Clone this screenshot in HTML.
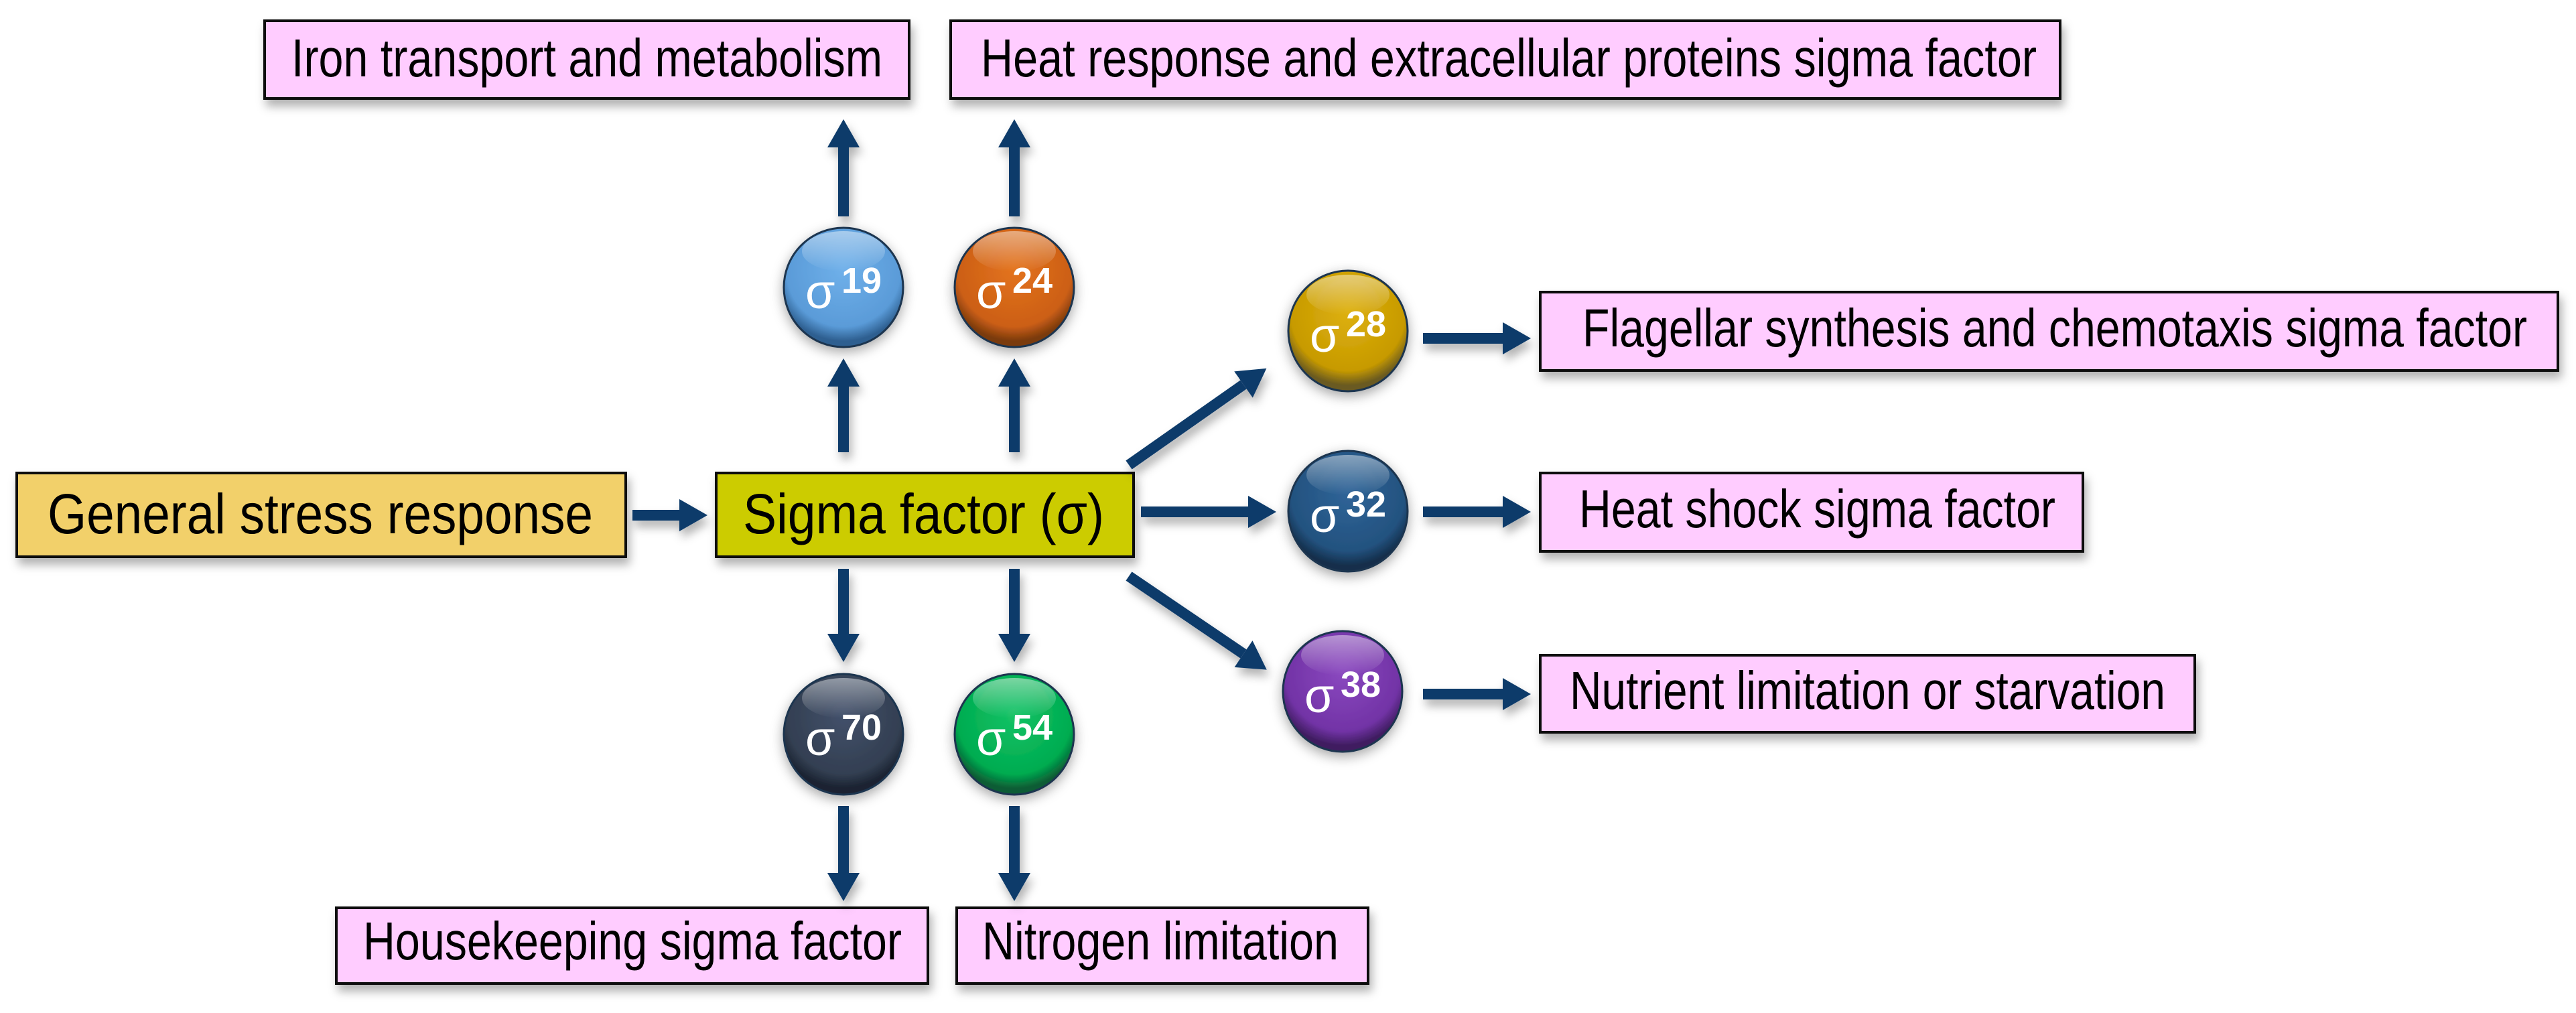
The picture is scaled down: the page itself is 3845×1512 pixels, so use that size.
<!DOCTYPE html>
<html><head><meta charset="utf-8"><style>html,body{margin:0;padding:0;background:#fff}svg{display:block}</style></head>
<body>
<svg width="3845" height="1512" viewBox="0 0 3845 1512" xmlns="http://www.w3.org/2000/svg" font-family="Liberation Sans, Arial, sans-serif">
<defs>
<filter id="sh" x="-10%" y="-20%" width="130%" height="160%"><feDropShadow dx="4" dy="10" stdDeviation="7" flood-color="#000" flood-opacity="0.3"/></filter>
<filter id="csh" x="-30%" y="-30%" width="160%" height="160%"><feDropShadow dx="0" dy="6" stdDeviation="9" flood-color="#000" flood-opacity="0.35"/></filter>
<marker id="ah" markerUnits="userSpaceOnUse" markerWidth="50" markerHeight="60" refX="0" refY="25" orient="auto" viewBox="0 0 50 50"><path d="M0,1 L42,25 L0,49 z" fill="#0b3a6b"/></marker>
<radialGradient id="g19" cx="50%" cy="35%" r="60%"><stop offset="0" stop-color="#6fb0ea"/><stop offset="0.8" stop-color="#5a9bd8"/><stop offset="1" stop-color="#2e5f90"/></radialGradient>
<radialGradient id="g24" cx="50%" cy="35%" r="60%"><stop offset="0" stop-color="#e3731f"/><stop offset="0.8" stop-color="#cc5f14"/><stop offset="1" stop-color="#7a3a0f"/></radialGradient>
<radialGradient id="g28" cx="50%" cy="35%" r="60%"><stop offset="0" stop-color="#ddb010"/><stop offset="0.8" stop-color="#c79a00"/><stop offset="1" stop-color="#6a5a20"/></radialGradient>
<radialGradient id="g32" cx="50%" cy="35%" r="60%"><stop offset="0" stop-color="#2f6498"/><stop offset="0.8" stop-color="#23527f"/><stop offset="1" stop-color="#142f4c"/></radialGradient>
<radialGradient id="g38" cx="50%" cy="35%" r="60%"><stop offset="0" stop-color="#8a48bf"/><stop offset="0.8" stop-color="#7233a6"/><stop offset="1" stop-color="#3f1d60"/></radialGradient>
<radialGradient id="g70" cx="50%" cy="35%" r="60%"><stop offset="0" stop-color="#42506a"/><stop offset="0.8" stop-color="#333f52"/><stop offset="1" stop-color="#1a2230"/></radialGradient>
<radialGradient id="g54" cx="50%" cy="35%" r="60%"><stop offset="0" stop-color="#14c265"/><stop offset="0.8" stop-color="#00ac50"/><stop offset="1" stop-color="#0b5c34"/></radialGradient>
<linearGradient id="hl" x1="0" y1="0" x2="0" y2="1"><stop offset="0" stop-color="#fff" stop-opacity="0.45"/><stop offset="1" stop-color="#fff" stop-opacity="0"/></linearGradient>
</defs>

<!-- boxes -->
<g filter="url(#sh)" stroke="#111" stroke-width="4">
<rect x="395" y="31" width="962" height="116" fill="#ffccff"/>
<rect x="1419" y="31" width="1656" height="116" fill="#ffccff"/>
<rect x="25" y="706" width="909" height="125" fill="#f2d06b"/>
<rect x="1069" y="706" width="623" height="125" fill="#cccc00"/>
<rect x="502" y="1355" width="883" height="113" fill="#ffccff"/>
<rect x="1428" y="1355" width="614" height="113" fill="#ffccff"/>
<rect x="2299" y="436" width="1519" height="117" fill="#ffccff"/>
<rect x="2299" y="706" width="810" height="117" fill="#ffccff"/>
<rect x="2299" y="978" width="977" height="115" fill="#ffccff"/>
</g>

<!-- box text -->
<g font-size="80" fill="#000" lengthAdjust="spacingAndGlyphs">
<text x="435" y="114" textLength="882" lengthAdjust="spacingAndGlyphs">Iron transport and metabolism</text>
<text x="1464" y="114" textLength="1576" lengthAdjust="spacingAndGlyphs">Heat response and extracellular proteins sigma factor</text>
<text x="71" y="796" font-size="84" textLength="814" lengthAdjust="spacingAndGlyphs">General  stress response</text>
<text x="1109" y="796" font-size="84" textLength="539" lengthAdjust="spacingAndGlyphs">Sigma factor (σ)</text>
<text x="542" y="1432" textLength="804" lengthAdjust="spacingAndGlyphs">Housekeeping sigma factor</text>
<text x="1466" y="1432" textLength="532" lengthAdjust="spacingAndGlyphs">Nitrogen limitation</text>
<text x="2362" y="517" textLength="1410" lengthAdjust="spacingAndGlyphs">Flagellar synthesis and chemotaxis sigma factor</text>
<text x="2357" y="787" textLength="711" lengthAdjust="spacingAndGlyphs">Heat shock sigma factor</text>
<text x="2343" y="1058" textLength="889" lengthAdjust="spacingAndGlyphs">Nutrient limitation or starvation</text>
</g>

<!-- arrows -->
<g stroke="#0b3a6b" stroke-width="16" marker-end="url(#ah)" fill="none" filter="url(#sh)">
<line x1="1259" y1="675" x2="1259" y2="577"/>
<line x1="1259" y1="323" x2="1259" y2="220"/>
<line x1="1514" y1="675" x2="1514" y2="577"/>
<line x1="1514" y1="323" x2="1514" y2="220"/>
<line x1="1259" y1="849" x2="1259" y2="946"/>
<line x1="1514" y1="849" x2="1514" y2="946"/>
<line x1="1259" y1="1203" x2="1259" y2="1303"/>
<line x1="1514" y1="1203" x2="1514" y2="1303"/>
<line x1="944" y1="769" x2="1014" y2="769"/>
<line x1="1703" y1="764" x2="1863" y2="764"/>
<line x1="1685" y1="694" x2="1856" y2="574"/>
<line x1="1685" y1="860" x2="1856" y2="976"/>
<line x1="2124" y1="505" x2="2243" y2="505"/>
<line x1="2124" y1="764" x2="2243" y2="764"/>
<line x1="2124" y1="1036" x2="2243" y2="1036"/>
</g>

<!-- circles -->
<g filter="url(#csh)" stroke="#1d3550" stroke-width="3">
<ellipse cx="1259" cy="429" rx="89" ry="89" fill="url(#g19)"/>
<ellipse cx="1514" cy="429" rx="89" ry="89" fill="url(#g24)"/>
<ellipse cx="1259" cy="1096" rx="89" ry="90" fill="url(#g70)"/>
<ellipse cx="1514" cy="1096" rx="89" ry="90" fill="url(#g54)"/>
<ellipse cx="2012" cy="494" rx="89" ry="90" fill="url(#g28)"/>
<ellipse cx="2012" cy="763" rx="89" ry="90" fill="url(#g32)"/>
<ellipse cx="2004" cy="1032" rx="89" ry="90" fill="url(#g38)"/>
</g>
<g fill="url(#hl)">
<ellipse cx="1259" cy="375" rx="62" ry="30"/>
<ellipse cx="1514" cy="375" rx="62" ry="30"/>
<ellipse cx="1259" cy="1042" rx="62" ry="30"/>
<ellipse cx="1514" cy="1042" rx="62" ry="30"/>
<ellipse cx="2012" cy="440" rx="62" ry="30"/>
<ellipse cx="2012" cy="709" rx="62" ry="30"/>
<ellipse cx="2004" cy="978" rx="62" ry="30"/>
</g>

<!-- circle labels -->
<g fill="#fff">
<text x="1202" y="460" font-size="72">σ</text><text x="1256" y="437" font-size="54" font-weight="bold">19</text>
<text x="1457" y="460" font-size="72">σ</text><text x="1511" y="437" font-size="54" font-weight="bold">24</text>
<text x="1202" y="1127" font-size="72">σ</text><text x="1256" y="1104" font-size="54" font-weight="bold">70</text>
<text x="1457" y="1127" font-size="72">σ</text><text x="1511" y="1104" font-size="54" font-weight="bold">54</text>
<text x="1955" y="525" font-size="72">σ</text><text x="2009" y="502" font-size="54" font-weight="bold">28</text>
<text x="1955" y="794" font-size="72">σ</text><text x="2009" y="771" font-size="54" font-weight="bold">32</text>
<text x="1947" y="1063" font-size="72">σ</text><text x="2001" y="1040" font-size="54" font-weight="bold">38</text>
</g>
</svg>
</body></html>
